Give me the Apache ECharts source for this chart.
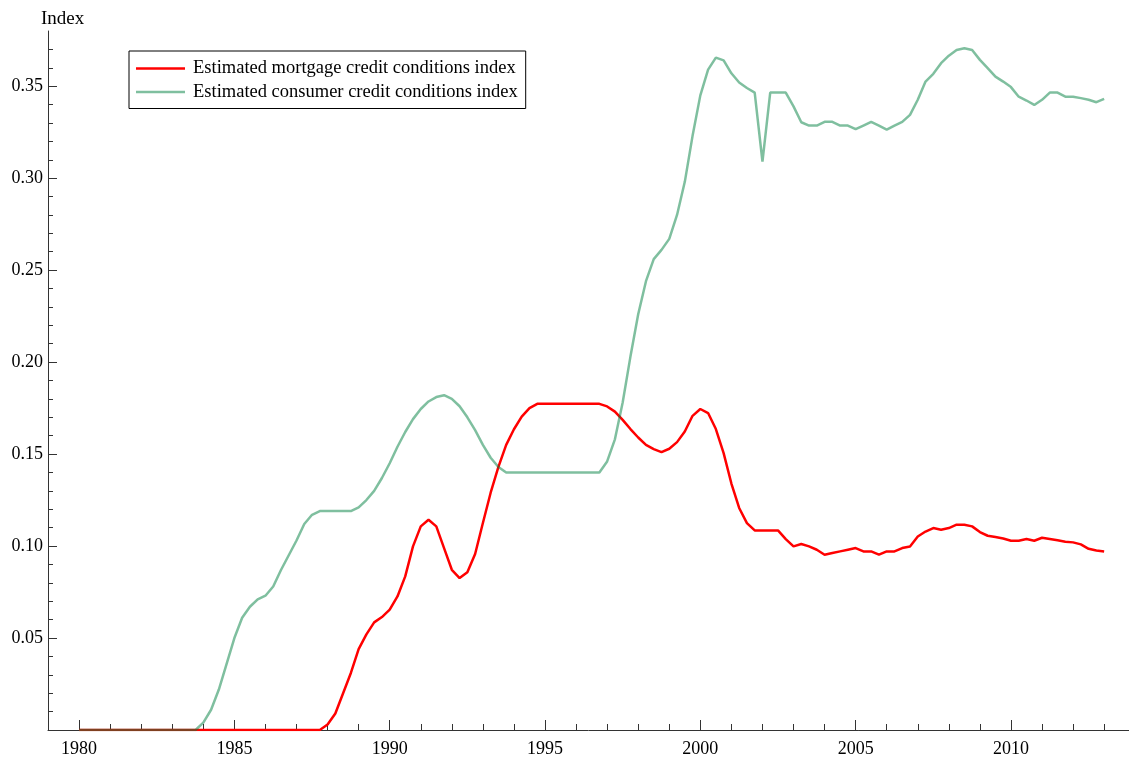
<!DOCTYPE html>
<html>
<head>
<meta charset="utf-8">
<title>Estimated credit conditions indices</title>
<script src="https://cdn.jsdelivr.net/npm/echarts@6/dist/echarts.min.js"></script>
<style>
  html, body { margin: 0; padding: 0; background: #fff; }
  #chart { width: 1129px; height: 757px; }
</style>
</head>
<body>
<div id="chart"></div>
<script>
// Quarterly observations, 1980Q1 .. 2013Q1 (one row per year)
const firstYear = 1980;

const mortgageIndex = [
  0, 0, 0, 0,                          // 1980
  0, 0, 0, 0,                          // 1981
  0, 0, 0, 0,                          // 1982
  0, 0, 0, 0,                          // 1983
  0, 0, 0, 0,                          // 1984
  0, 0, 0, 0,                          // 1985
  0, 0, 0, 0,                          // 1986
  0, 0, 0, 0,                          // 1987
  0.003, 0.009, 0.020, 0.031,          // 1988
  0.044, 0.052, 0.0585, 0.0614,        // 1989
  0.0654, 0.0726, 0.0835, 0.0998,      // 1990
  0.1107, 0.1143, 0.1107, 0.0989,      // 1991
  0.0871, 0.0826, 0.0857, 0.0957,      // 1992
  0.1125, 0.129, 0.143, 0.155,         // 1993
  0.1635, 0.1704, 0.175, 0.1773,       // 1994
  0.1773, 0.1773, 0.1773, 0.1773,      // 1995
  0.1773, 0.1773, 0.1773, 0.1773,      // 1996
  0.1759, 0.1731, 0.1686, 0.1636,      // 1997
  0.159, 0.155, 0.1527, 0.1511,        // 1998
  0.1529, 0.1565, 0.1623, 0.1708,      // 1999
  0.1745, 0.1723, 0.1636, 0.1505,      // 2000
  0.134, 0.1207, 0.1125, 0.1085,       // 2001
  0.1085, 0.1085, 0.1085, 0.1038,      // 2002
  0.0998, 0.1011, 0.0998, 0.098,       // 2003
  0.0953, 0.0962, 0.0971, 0.098,       // 2004
  0.0989, 0.0971, 0.0971, 0.0953,      // 2005
  0.0971, 0.0971, 0.0989, 0.0998,      // 2006
  0.1052, 0.1079, 0.1098, 0.1089,      // 2007
  0.1098, 0.1116, 0.1116, 0.1107,      // 2008
  0.1076, 0.1056, 0.1049, 0.1041,      // 2009
  0.1029, 0.1029, 0.1038, 0.1029,      // 2010
  0.1045, 0.1038, 0.1031, 0.1023,      // 2011
  0.102, 0.1009, 0.0985, 0.0976,       // 2012
  0.0971                               // 2013
];

const consumerIndex = [
  0, 0, 0, 0,                          // 1980
  0, 0, 0, 0,                          // 1981
  0, 0, 0, 0,                          // 1982
  0, 0, 0, 0,                          // 1983
  0.004, 0.011, 0.022, 0.036,          // 1984
  0.050, 0.061, 0.067, 0.071,          // 1985
  0.073, 0.078, 0.087, 0.095,          // 1986
  0.103, 0.112, 0.117, 0.119,          // 1987
  0.119, 0.119, 0.119, 0.119,          // 1988
  0.121, 0.125, 0.130, 0.137,          // 1989
  0.145, 0.154, 0.162, 0.169,          // 1990
  0.1745, 0.1786, 0.181, 0.182,        // 1991
  0.180, 0.176, 0.170, 0.163,          // 1992
  0.155, 0.148, 0.143, 0.140,          // 1993
  0.140, 0.140, 0.140, 0.140,          // 1994
  0.140, 0.140, 0.140, 0.140,          // 1995
  0.140, 0.140, 0.140, 0.140,          // 1996
  0.146, 0.158, 0.178, 0.203,          // 1997
  0.226, 0.244, 0.256, 0.261,          // 1998
  0.267, 0.280, 0.298, 0.323,          // 1999
  0.345, 0.359, 0.3655, 0.364,         // 2000
  0.357, 0.352, 0.349, 0.3465,         // 2001
  0.309, 0.3465, 0.3465, 0.3465,       // 2002
  0.339, 0.3304, 0.3286, 0.3286,       // 2003
  0.3306, 0.3306, 0.3286, 0.3286,      // 2004
  0.3266, 0.3286, 0.3306, 0.3286,      // 2005
  0.3264, 0.3286, 0.3306, 0.3344,      // 2006
  0.3426, 0.3525, 0.3567, 0.3625,      // 2007
  0.3666, 0.3697, 0.3706, 0.3697,      // 2008
  0.3643, 0.3598, 0.3552, 0.3525,      // 2009
  0.3495, 0.3443, 0.3422, 0.3398,      // 2010
  0.3426, 0.3465, 0.3465, 0.3443,      // 2011
  0.3443, 0.3435, 0.3426, 0.3413,      // 2012
  0.3431                               // 2013
];

const seriesNames = [
  'Estimated mortgage credit conditions index',
  'Estimated consumer credit conditions index'
];

// Axis tick values
const xMajorTicks = [1980, 1985, 1990, 1995, 2000, 2005, 2010];
const xMinorTicks = [1981, 1982, 1983, 1984, 1986, 1987, 1988, 1989,
                     1991, 1992, 1993, 1994, 1996, 1997, 1998, 1999,
                     2001, 2002, 2003, 2004, 2006, 2007, 2008, 2009,
                     2011, 2012, 2013];
const yMajorTicks = [0.05, 0.10, 0.15, 0.20, 0.25, 0.30, 0.35];
const yMinorTicks = [0.01, 0.02, 0.03, 0.04, 0.06, 0.07, 0.08, 0.09,
                     0.11, 0.12, 0.13, 0.14, 0.16, 0.17, 0.18, 0.19,
                     0.21, 0.22, 0.23, 0.24, 0.26, 0.27, 0.28, 0.29,
                     0.31, 0.32, 0.33, 0.34, 0.36, 0.37];

// Pair each quarterly value with its position on the time axis
function toPoints(values) {
  return values.map((v, i) => [firstYear + i / 4, v]);
}

const FONT = "'Liberation Serif', 'Times New Roman', serif";
const AXIS_COLOR = '#333';
const MORTGAGE_COLOR = '#ff0000';
const CONSUMER_COLOR = 'rgba(0,128,64,0.5)';
// Plain line swatch for the legend (thin bar, aspect kept)
const LINE_ICON = 'path://M0,0L49,0L49,2.5L0,2.5Z';

const chart = echarts.init(document.getElementById('chart'), null, { renderer: 'canvas' });

const option = {
  animation: false,
  backgroundColor: '#fff',
  textStyle: { fontFamily: FONT },
  title: {
    text: 'Index',
    left: 41,
    top: 10,
    padding: 0,
    textStyle: { fontFamily: FONT, fontSize: 19, fontWeight: 'normal', color: '#000' }
  },
  legend: {
    orient: 'vertical',
    left: 129,
    top: 51,
    padding: [8, 8, 7, 7],
    itemWidth: 49,
    itemHeight: 16,
    itemGap: 4.5,
    borderColor: '#000',
    borderWidth: 1,
    backgroundColor: '#fff',
    textStyle: { fontFamily: FONT, fontSize: 18.5, color: '#000', padding: [0, 0, 0, 3] },
    data: [
      { name: seriesNames[0], icon: LINE_ICON },
      { name: seriesNames[1], icon: LINE_ICON }
    ]
  },
  grid: {
    left: 48,
    right: 0,
    top: 31,
    bottom: 27,
    containLabel: false,
    outerBoundsMode: 'none'
  },
  xAxis: [
    {
      type: 'value',
      position: 'bottom',
      min: 1979,
      max: 2013.8,
      axisLine: { show: true, onZero: false, lineStyle: { color: AXIS_COLOR, width: 1 } },
      axisTick: { show: true, inside: true, length: 10, customValues: xMajorTicks,
                  lineStyle: { color: AXIS_COLOR, width: 1 } },
      axisLabel: { customValues: xMajorTicks, margin: 10, fontFamily: FONT, fontSize: 18,
                   color: '#000', formatter: v => String(v) },
      splitLine: { show: false }
    },
    {
      type: 'value',
      position: 'bottom',
      offset: 0,
      min: 1979,
      max: 2013.8,
      axisLine: { show: false },
      axisTick: { show: true, inside: true, length: 6, customValues: xMinorTicks,
                  lineStyle: { color: AXIS_COLOR, width: 1 } },
      axisLabel: { show: false },
      splitLine: { show: false }
    }
  ],
  yAxis: [
    {
      type: 'value',
      position: 'left',
      min: 0,
      max: 0.38,
      axisLine: { show: true, onZero: false, lineStyle: { color: AXIS_COLOR, width: 1 } },
      axisTick: { show: true, inside: true, length: 9, customValues: yMajorTicks,
                  lineStyle: { color: AXIS_COLOR, width: 1 } },
      axisLabel: { customValues: yMajorTicks, margin: 5, fontFamily: FONT, fontSize: 18,
                   color: '#000', formatter: v => v.toFixed(2) },
      splitLine: { show: false }
    },
    {
      type: 'value',
      position: 'left',
      offset: 0,
      min: 0,
      max: 0.38,
      axisLine: { show: false },
      axisTick: { show: true, inside: true, length: 5, customValues: yMinorTicks,
                  lineStyle: { color: AXIS_COLOR, width: 1 } },
      axisLabel: { show: false },
      splitLine: { show: false }
    }
  ],
  series: [
    {
      name: seriesNames[0],
      type: 'line',
      xAxisIndex: 0,
      yAxisIndex: 0,
      symbol: 'none',
      smooth: false,
      color: MORTGAGE_COLOR,
      lineStyle: { color: MORTGAGE_COLOR, width: 2.5 },
      data: toPoints(mortgageIndex)
    },
    {
      name: seriesNames[1],
      type: 'line',
      xAxisIndex: 0,
      yAxisIndex: 0,
      symbol: 'none',
      smooth: false,
      color: CONSUMER_COLOR,
      lineStyle: { color: CONSUMER_COLOR, width: 2.5 },
      data: toPoints(consumerIndex)
    }
  ]
};

chart.setOption(option);
</script>
</body>
</html>
